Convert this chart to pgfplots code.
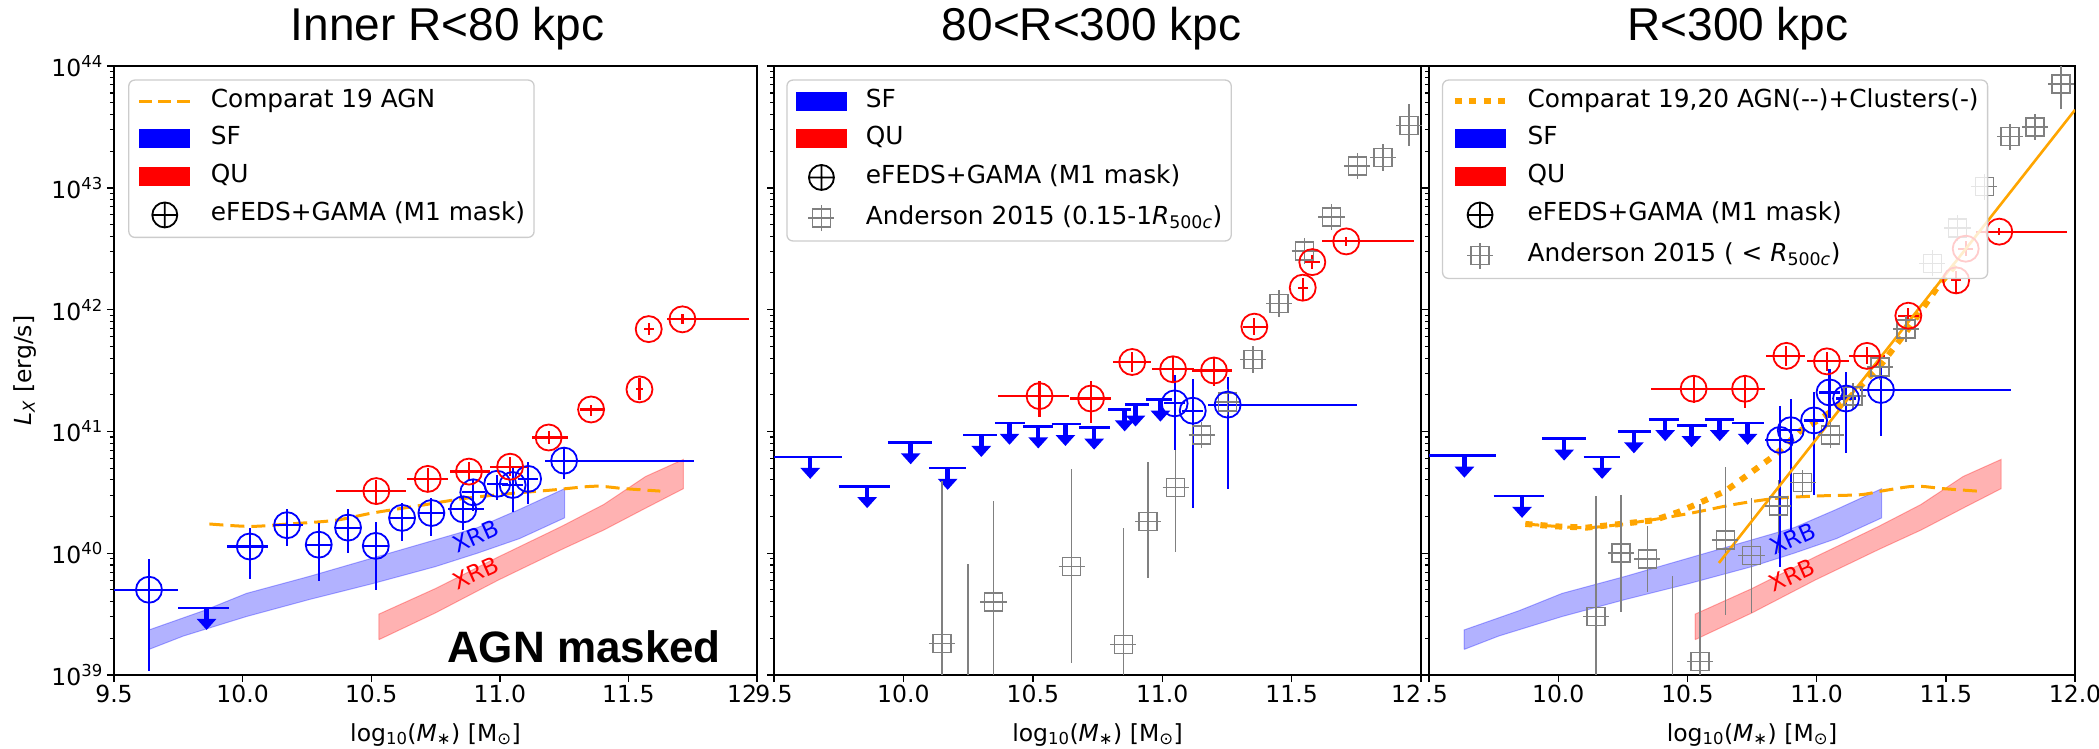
\documentclass[border=0pt]{standalone}
\usepackage{fontspec}
\setmainfont{DejaVu Sans}
\newfontfamily\arialf{Liberation Sans}
\usepackage{pgfplots}
\usepackage{pgfplotstable}
\pgfplotsset{compat=1.18}
\usetikzlibrary{arrows.meta}
\definecolor{mplorange}{HTML}{FFA500}
\definecolor{mplgray}{HTML}{808080}

\pgfdeclareplotmark{sqplus}{%
  \pgfpathrectangle{\pgfqpoint{-\pgfplotmarksize}{-\pgfplotmarksize}}{\pgfqpoint{2\pgfplotmarksize}{2\pgfplotmarksize}}%
  \pgfpathmoveto{\pgfqpoint{-1.45\pgfplotmarksize}{0pt}}\pgfpathlineto{\pgfqpoint{1.45\pgfplotmarksize}{0pt}}%
  \pgfpathmoveto{\pgfqpoint{0pt}{-1.45\pgfplotmarksize}}\pgfpathlineto{\pgfqpoint{0pt}{1.45\pgfplotmarksize}}%
  \pgfusepathqstroke}

\newcommand{\tickfont}{\fontsize{23.5}{28}\selectfont}
\newcommand{\legfont}{\fontsize{24.8}{29}\selectfont}
\newcommand{\titfont}{\arialf\fontsize{46}{52}\selectfont}

\tikzset{xrbtext/.style={rotate=24, font=\fontsize{23}{27}\selectfont}}

% legend images (no border inherited from the legend box)
\newcommand{\legbox}{\path[draw=none, fill=none] (0pt,-12pt) rectangle (51pt,12pt);}
\newcommand{\legpatch}[1]{\legbox\fill[#1, draw=none, sharp corners, fill opacity=1] (0pt,-9.5pt) rectangle (51pt,9.5pt);}
\newcommand{\legoplus}{\legbox\draw[black, fill=none, line width=1.8pt] (25.5pt,0pt) circle (12.5pt) (13pt,0pt) -- (38pt,0pt) (25.5pt,-12.5pt) -- (25.5pt,12.5pt);}
\newcommand{\legsq}{\legbox\draw[mplgray, fill=none, line width=1.6pt, sharp corners] (16.5pt,-9pt) rectangle (34.5pt,9pt) (12.5pt,0pt) -- (38.5pt,0pt) (25.5pt,-13pt) -- (25.5pt,13pt);}

\pgfplotsset{
  panel/.style={
    scale only axis, height=609pt,
    xmin=9.5, xmax=12, ymin=39, ymax=44,
    xtick={9.5,10,10.5,11,11.5,12},
    ytick={39,40,41,42,43,44},
    minor ytick={39.301,39.477,39.602,39.699,39.778,39.845,39.903,39.954,
                 40.301,40.477,40.602,40.699,40.778,40.845,40.903,40.954,
                 41.301,41.477,41.602,41.699,41.778,41.845,41.903,41.954,
                 42.301,42.477,42.602,42.699,42.778,42.845,42.903,42.954,
                 43.301,43.477,43.602,43.699,43.778,43.845,43.903,43.954},
    tick align=outside, xtick pos=bottom, ytick pos=left,
    major tick length=7pt, minor tick length=4pt,
    major tick style={line width=1.4pt, black},
    minor tick style={line width=1.1pt, black},
    axis line style={line width=1.6pt},
    tick label style={font=\tickfont},
    xticklabel style={inner sep=3pt},
    yticklabel style={inner sep=4pt},
    xlabel={log\textsubscript{10}(\textit{M}\textsubscript{∗}) [M\textsubscript{⊙}]},
    xlabel style={font=\tickfont, at={(axis description cs:0.5,0)}, anchor=base, yshift=-66pt},
    title style={font=\titfont, at={(axis description cs:0.5,1)}, anchor=base, yshift=20pt},
    legend cell align=left,
    legend style={anchor=north west, draw=black!20, line width=1.3pt, rounded corners=6pt,
      fill=white, fill opacity=0.8, text opacity=1, draw opacity=1,
      inner xsep=9pt, inner ysep=9pt, font=\legfont, row sep=13.5pt,
      nodes={inner sep=0pt, text height=18pt, text depth=6pt},
      /tikz/every odd column/.append style={column sep=19pt}},
    clip=true,
  },
  sfpt/.style={blue, only marks, mark=o, mark size=13pt, mark options={line width=1.8pt},
    error bars/x dir=both, error bars/x explicit, error bars/y dir=both, error bars/y explicit,
    error bars/error mark=none, error bars/error bar style={line width=2.2pt}},
  qupt/.style={sfpt, red},
  andpt/.style={mplgray, only marks, mark=sqplus, mark size=9pt, mark options={line width=1.6pt},
    error bars/y dir=both, error bars/y explicit,
    error bars/error mark=none, error bars/error bar style={line width=1.6pt}},
  sfband/.style={fill=blue, fill opacity=0.3, draw=blue, draw opacity=0.3, line width=1pt},
  quband/.style={fill=red, fill opacity=0.3, draw=red, draw opacity=0.3, line width=1pt},
  agnline/.style={mplorange, line width=3pt, dash pattern=on 14pt off 7pt},
  ulbar/.style={blue, line width=2.6pt, quiver={u=\thisrow{w}, v=0, every arrow/.append style={line width=2.6pt}}},
  ularrow/.style={blue, line width=4.5pt, quiver={u=0, v=-0.18,
      every arrow/.append style={line width=4.5pt, -{Triangle[width=19pt,length=11pt]}}},
      -{Triangle[width=19pt,length=11pt]}},
}

% ---------------- data ----------------
\pgfplotstableread{
x y xm xp ym yp
9.636 39.70 0.136 0.114 0.67 0.25
10.028 40.055 0.088 0.072 0.265 0.155
10.173 40.23 0.047 0.062 0.17 0.13
10.296 40.07 0.053 0.053 0.30 0.18
10.41 40.21 0.045 0.05 0.21 0.15
10.518 40.06 0.045 0.05 0.36 0.20
10.62 40.29 0.045 0.045 0.19 0.12
10.734 40.33 0.05 0.05 0.19 0.12
10.858 40.36 0.058 0.082 0.17 0.11
10.897 40.50 0.045 0.045 0.15 0.10
10.99 40.57 0.04 0.04 0.13 0.07
11.05 40.56 0.04 0.04 0.22 0.15
11.11 40.61 0.04 0.04 0.21 0.14
11.25 40.76 0.075 0.505 0.15 0.10
}\sfA
\pgfplotstableread{
xc y xl w
9.86 39.55 9.75 0.196
}\ulA
\pgfplotstableread{
x y xm xp ym yp
10.52 40.51 0.157 0.116 0.10 0.09
10.72 40.61 0.08 0.08 0.10 0.09
10.88 40.67 0.073 0.082 0.08 0.08
11.04 40.71 0.08 0.07 0.08 0.08
11.19 40.95 0.064 0.075 0.05 0.05
11.355 41.18 0.045 0.045 0.05 0.04
11.543 41.345 0.015 0.015 0.09 0.09
11.579 41.84 0.02 0.02 0.05 0.05
11.71 41.92 0.06 0.26 0.04 0.04
}\quA

\pgfplotstableread{
xc y xl w
9.64 40.79 9.5 0.261
9.86 40.55 9.75 0.20
10.028 40.91 9.94 0.17
10.171 40.70 10.10 0.142
10.301 40.97 10.232 0.13
10.41 41.07 10.353 0.116
10.521 41.04 10.462 0.116
10.626 41.06 10.573 0.112
10.737 41.03 10.677 0.123
10.855 41.18 10.79 0.09
10.897 41.22 10.856 0.094
10.993 41.26 10.938 0.10
}\ulB
\pgfplotstableread{
x y xm xp ym yp
11.048 41.23 0.04 0.04 0.38 0.23
11.118 41.17 0.04 0.04 0.80 0.26
11.253 41.22 0.078 0.501 0.69 0.23
}\sfB
\pgfplotstableread{
x y xm xp ym yp
10.526 41.29 0.161 0.112 0.17 0.12
10.725 41.27 0.081 0.078 0.20 0.14
10.884 41.57 0.076 0.074 0.08 0.08
11.042 41.51 0.08 0.081 0.11 0.10
11.20 41.50 0.086 0.07 0.13 0.10
11.356 41.86 0.043 0.049 0.07 0.07
11.543 42.18 0.02 0.02 0.10 0.08
11.58 42.39 0.03 0.03 0.06 0.06
11.711 42.56 0.092 0.263 0.04 0.04
}\quB
\pgfplotstableread{
x y ym yp
10.149 39.26 0.26 1.33
10.348 39.60 0.60 0.83
10.65 39.89 0.79 0.80
10.85 39.25 0.25 0.96
10.946 40.26 0.46 0.49
11.052 40.54 0.53 0.68
11.152 40.97 0.11 0.09
11.253 41.24 0 0
11.351 41.59 0 0
11.452 42.05 0 0
11.55 42.48 0 0
11.654 42.76 0 0
11.754 43.18 0 0
11.853 43.25 0.11 0.11
11.953 43.51 0.17 0.18
}\anB

\pgfplotstableread{
xc y xl w
9.637 40.80 9.5 0.259
9.86 40.47 9.75 0.196
10.023 40.94 9.938 0.168
10.17 40.79 10.098 0.142
10.293 41.00 10.23 0.13
10.414 41.10 10.35 0.117
10.516 41.05 10.46 0.117
10.625 41.10 10.568 0.111
10.733 41.07 10.674 0.122
}\ulC
\pgfplotstableread{
x y xm xp ym yp
10.858 40.93 0.058 0.049 1.04 0.28
10.90 41.01 0.04 0.04 0.83 0.26
10.99 41.09 0.04 0.04 0.61 0.23
11.05 41.32 0.04 0.04 0.21 0.19
11.114 41.27 0.04 0.04 0.45 0.22
11.249 41.34 0.081 0.505 0.38 0.19
}\sfC
\pgfplotstableread{
x y xm xp ym yp
10.524 41.35 0.164 0.09 0.12 0.10
10.723 41.35 0.109 0.077 0.16 0.10
10.883 41.62 0.077 0.073 0.08 0.08
11.04 41.575 0.076 0.087 0.08 0.08
11.195 41.62 0.07 0.07 0.07 0.07
11.355 41.95 0.04 0.04 0.06 0.06
11.54 42.24 0.02 0.02 0.10 0.08
11.577 42.50 0.03 0.03 0.06 0.06
11.707 42.64 0.092 0.263 0.03 0.03
}\quC
\pgfplotstableread{
x y ym yp
10.147 39.48 0.48 0.99
10.244 40.00 0.48 0.48
10.345 39.95 0.27 0.27
10.549 39.11 0.11 1.29
10.647 40.11 0.62 0.60
10.748 39.98 0.47 0.47
10.852 40.39 0.39 0.21
10.946 40.58 0.11 0.10
11.054 40.97 0.09 0.07
11.14 41.29 0 0
11.246 41.53 0 0
11.347 41.84 0 0
11.448 42.38 0 0
11.545 42.67 0 0
11.649 43.01 0 0
11.749 43.42 0 0
11.846 43.50 0.11 0.11
11.945 43.85 0.20 0.15
}\anC

\newcommand{\sfbandcoords}{(9.636,39.21) (9.77,39.32) (10.015,39.48) (10.26,39.62) (10.505,39.75) (10.75,39.89) (10.913,40.0) (11.077,40.12) (11.252,40.29) (11.252,40.53) (11.077,40.36) (10.913,40.21) (10.75,40.11) (10.505,39.96) (10.26,39.81) (10.015,39.67) (9.851,39.53) (9.636,39.37) (9.636,39.21)}
\newcommand{\qubandcoords}{(10.53,39.29) (10.75,39.51) (10.995,39.78) (11.24,40.03) (11.404,40.19) (11.567,40.37) (11.714,40.53) (11.714,40.77) (11.567,40.63) (11.404,40.40) (11.24,40.22) (10.995,39.97) (10.75,39.71) (10.53,39.50) (10.53,39.29)}

\begin{document}
\begin{tikzpicture}
\useasboundingbox (0pt,0pt) rectangle (2099pt,748pt);

% ================= Panel 1 =================
\begin{axis}[panel, at={(114pt,73pt)}, anchor=south west, width=643pt,
  title={Inner R<80 kpc}, title style={xshift=12pt},
  xticklabels={9.5,10.0,10.5,11.0,11.5,\makebox[0pt][r]{12}},
  yticklabels={10\textsuperscript{39},10\textsuperscript{40},10\textsuperscript{41},10\textsuperscript{42},10\textsuperscript{43},10\textsuperscript{44}},
  ylabel={\textit{L}\textsubscript{\textit{X}} [erg/s]},
  ylabel style={font=\tickfont}, ylabel shift=8pt,
  legend style={at={(0.022,0.978)}}]
\addplot[forget plot, sfband] coordinates {\sfbandcoords};
\addplot[forget plot, quband] coordinates {\qubandcoords};
\addplot[forget plot, agnline, smooth] coordinates {(9.871,40.24) (10.03,40.22) (10.18,40.24) (10.36,40.27) (10.505,40.33) (10.685,40.39) (10.864,40.45) (11.044,40.49) (11.21,40.52) (11.37,40.55) (11.485,40.53) (11.624,40.51)};
\addplot[forget plot, ulbar] table[x=xl,y=y]{\ulA};
\addplot[forget plot, ularrow] table[x=xc,y=y]{\ulA};
\addplot[forget plot, sfpt] table[x=x,y=y,x error minus=xm,x error plus=xp,y error minus=ym,y error plus=yp]{\sfA};
\addplot[forget plot, qupt] table[x=x,y=y,x error minus=xm,x error plus=xp,y error minus=ym,y error plus=yp]{\quA};
\node[blue, xrbtext] at (axis cs:10.905,40.14) {XRB};
\node[red, xrbtext] at (axis cs:10.905,39.84) {XRB};
\node[anchor=base west, font=\arialf\bfseries\fontsize{44}{48}\selectfont] at (rel axis cs:0.5125,0.0213) {AGN masked};
\addlegendimage{legend image code/.code={\legbox\draw[mplorange, line width=3pt, dash pattern=on 13pt off 6pt] (0pt,0pt) -- (51pt,0pt);}}
\addlegendentry{Comparat 19 AGN}
\addlegendimage{legend image code/.code={\legpatch{blue}}}
\addlegendentry{SF}
\addlegendimage{legend image code/.code={\legpatch{red}}}
\addlegendentry{QU}
\addlegendimage{legend image code/.code={\legoplus}}
\addlegendentry{eFEDS+GAMA (M1 mask)}
\end{axis}

% ================= Panel 2 =================
\begin{axis}[panel, at={(774pt,73pt)}, anchor=south west, width=647pt,
  title={80<R<300 kpc}, title style={xshift=-6pt},
  xticklabels={9.5,10.0,10.5,11.0,11.5,\makebox[0pt][r]{12}},
  yticklabels={},
  legend style={at={(0.019,0.978)}}]
\addplot[forget plot, ulbar] table[x=xl,y=y]{\ulB};
\addplot[forget plot, ularrow] table[x=xc,y=y]{\ulB};
\addplot[forget plot, mplgray, line width=1.6pt] coordinates {(10.249,39) (10.249,39.91)};
\addplot[forget plot, andpt] table[x=x,y=y,y error minus=ym,y error plus=yp]{\anB};
\addplot[forget plot, sfpt] table[x=x,y=y,x error minus=xm,x error plus=xp,y error minus=ym,y error plus=yp]{\sfB};
\addplot[forget plot, qupt] table[x=x,y=y,x error minus=xm,x error plus=xp,y error minus=ym,y error plus=yp]{\quB};
\addlegendimage{legend image code/.code={\legpatch{blue}}}
\addlegendentry{SF}
\addlegendimage{legend image code/.code={\legpatch{red}}}
\addlegendentry{QU}
\addlegendimage{legend image code/.code={\legoplus}}
\addlegendentry{eFEDS+GAMA (M1 mask)}
\addlegendimage{legend image code/.code={\legsq}}
\addlegendentry{Anderson 2015 (0.15-1\textit{R}\textsubscript{500\textit{c}})}
\end{axis}

% ================= Panel 3 =================
\begin{axis}[panel, at={(1429pt,73pt)}, anchor=south west, width=646pt,
  title={R<300 kpc}, title style={xshift=-14pt},
  xticklabels={\makebox[0pt][l]{\hspace{-3.7pt}.5},10.0,10.5,11.0,11.5,12.0},
  yticklabels={},
  legend style={at={(0.02,0.978)}}]
\addplot[forget plot, sfband] coordinates {\sfbandcoords};
\addplot[forget plot, quband] coordinates {\qubandcoords};
\addplot[forget plot, agnline, smooth] coordinates {(9.873,40.24) (10.11,40.21) (10.32,40.26) (10.516,40.33) (10.68,40.40) (10.842,40.45) (11.005,40.47) (11.168,40.48) (11.25,40.51) (11.38,40.55) (11.49,40.53) (11.62,40.51)};
\addplot[forget plot, mplorange, line width=6pt, dash pattern=on 7pt off 8pt] coordinates {(9.873,40.24) (9.995,40.22) (10.11,40.21) (10.24,40.24) (10.37,40.27) (10.467,40.34) (10.533,40.40) (10.647,40.51) (10.777,40.71) (10.842,40.81) (10.94,41.01) (11.02,41.11) (11.12,41.26) (11.25,41.55) (11.355,41.84) (11.473,42.20) (11.55,42.40)};
\addplot[forget plot, ulbar] table[x=xl,y=y]{\ulC};
\addplot[forget plot, ularrow] table[x=xc,y=y]{\ulC};
\addplot[forget plot, mplgray, line width=1.6pt] coordinates {(10.443,39) (10.443,39.81)};
\addplot[forget plot, andpt] table[x=x,y=y,y error minus=ym,y error plus=yp]{\anC};
\addplot[forget plot, sfpt] table[x=x,y=y,x error minus=xm,x error plus=xp,y error minus=ym,y error plus=yp]{\sfC};
\addplot[forget plot, qupt] table[x=x,y=y,x error minus=xm,x error plus=xp,y error minus=ym,y error plus=yp]{\quC};
\addplot[forget plot, mplorange, line width=2.6pt] coordinates {(10.622,39.92) (12.0,43.64)};
\node[blue, xrbtext] at (axis cs:10.908,40.12) {XRB};
\node[red, xrbtext] at (axis cs:10.905,39.82) {XRB};
\addlegendimage{legend image code/.code={\legbox\draw[mplorange, line width=6pt, dash pattern=on 7.4pt off 7.1pt] (0pt,0pt) -- (51pt,0pt);}}
\addlegendentry{Comparat 19,20 AGN(-{}-)+Clusters(-)}
\addlegendimage{legend image code/.code={\legpatch{blue}}}
\addlegendentry{SF}
\addlegendimage{legend image code/.code={\legpatch{red}}}
\addlegendentry{QU}
\addlegendimage{legend image code/.code={\legoplus}}
\addlegendentry{eFEDS+GAMA (M1 mask)}
\addlegendimage{legend image code/.code={\legsq}}
\addlegendentry{Anderson 2015 ( < \textit{R}\textsubscript{500\textit{c}})}
\end{axis}
\end{tikzpicture}
\end{document}
